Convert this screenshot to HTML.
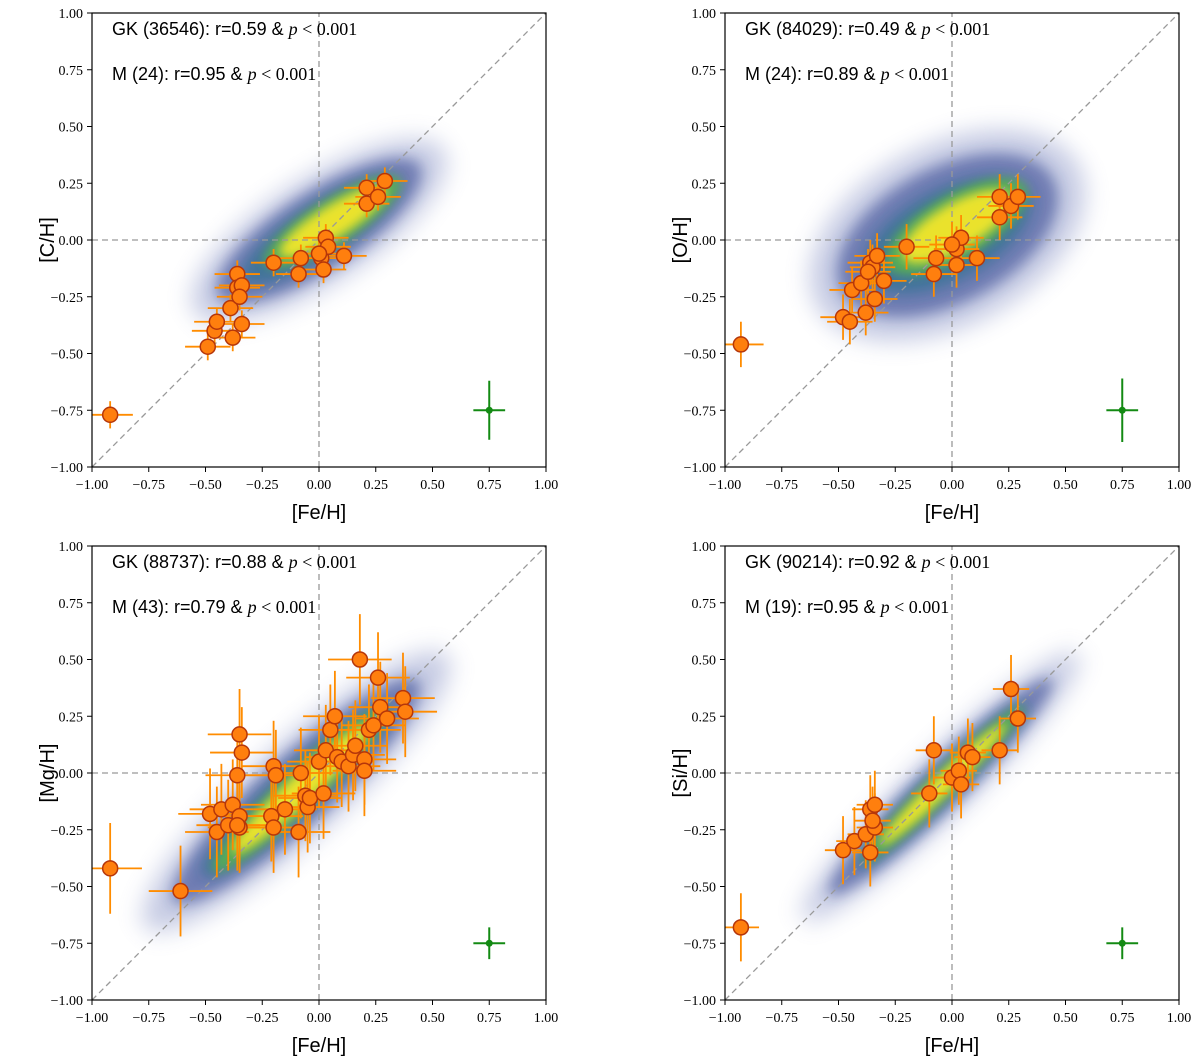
<!DOCTYPE html>
<html><head><meta charset="utf-8"><style>
body{margin:0;background:#fff;}
svg{display:block;font-family:"Liberation Sans",sans-serif;}
</style></head><body>
<svg id="fig" width="1200" height="1063" viewBox="0 0 1200 1063">
<defs><filter id="blur" x="-50%" y="-50%" width="200%" height="200%"><feGaussianBlur stdDeviation="12"/></filter>
<filter id="blurm" x="-50%" y="-50%" width="200%" height="200%"><feGaussianBlur stdDeviation="7"/></filter>
<filter id="blur2" x="-50%" y="-50%" width="200%" height="200%"><feGaussianBlur stdDeviation="5"/></filter></defs>
</svg>
<script>
const NS='http://www.w3.org/2000/svg';
const svg=document.getElementById('fig');
const ticks=[-1,-0.75,-0.5,-0.25,0,0.25,0.5,0.75,1];
const tickLabels=['\u22121.00','\u22120.75','\u22120.50','\u22120.25','0.00','0.25','0.50','0.75','1.00'];
const cFe=[-0.92,-0.49,-0.46,-0.45,-0.39,-0.38,-0.34,-0.36,-0.36,-0.34,-0.20,-0.09,-0.08,0.01,0.02,0.03,0.04,0.11,0.21,0.21,0.26,0.29,-0.35,0.0];
const cVal=[-0.77,-0.47,-0.40,-0.36,-0.30,-0.43,-0.37,-0.15,-0.21,-0.20,-0.10,-0.15,-0.08,-0.08,-0.13,0.01,-0.03,-0.07,0.23,0.16,0.19,0.26,-0.25,-0.06];
const oFe=[-0.93,-0.48,-0.44,-0.45,-0.40,-0.38,-0.36,-0.35,-0.34,-0.33,-0.20,-0.08,-0.07,0.02,0.02,0.04,0.11,0.21,0.21,0.26,0.29,-0.37,0.0,-0.30];
const oVal=[-0.46,-0.34,-0.22,-0.36,-0.19,-0.32,-0.10,-0.12,-0.26,-0.07,-0.03,-0.15,-0.08,-0.04,-0.11,0.01,-0.08,0.19,0.10,0.15,0.19,-0.14,-0.02,-0.18];
const mgFe=[-0.92,-0.61,-0.48,-0.45,-0.43,-0.40,-0.38,-0.36,-0.35,-0.34,-0.35,-0.35,-0.36,-0.20,-0.19,-0.21,-0.20,-0.15,-0.09,-0.08,-0.06,-0.05,-0.04,0.0,0.02,0.03,0.05,0.07,0.08,0.10,0.13,0.15,0.16,0.18,0.20,0.20,0.22,0.24,0.26,0.27,0.30,0.37,0.38];
const mgVal=[-0.42,-0.52,-0.18,-0.26,-0.16,-0.23,-0.14,-0.01,0.17,0.09,-0.19,-0.24,-0.23,0.03,-0.01,-0.19,-0.24,-0.16,-0.26,0.0,-0.10,-0.15,-0.11,0.05,-0.09,0.10,0.19,0.25,0.07,0.05,0.03,0.08,0.12,0.50,0.06,0.01,0.19,0.21,0.42,0.29,0.24,0.33,0.27];
const siFe=[-0.93,-0.48,-0.43,-0.38,-0.36,-0.36,-0.34,-0.34,-0.10,-0.08,0.0,0.03,0.04,0.07,0.09,0.21,0.26,0.29,-0.35];
const siVal=[-0.68,-0.34,-0.30,-0.27,-0.16,-0.35,-0.14,-0.24,-0.09,0.10,-0.02,0.01,-0.05,0.09,0.07,0.10,0.37,0.24,-0.21];

function el(tag,attrs,parent){const e=document.createElementNS(NS,tag);for(const k in attrs)e.setAttribute(k,attrs[k]);(parent||svg).appendChild(e);return e;}

const panels=[
 {L:92,T:13,yl:'[C/H]',fe:cFe,v:cVal,xe:0.1,ye:0.06,ge:0.13,gk:'36546',gr:'0.59',m:'24',mr:'0.95',
  cloud:[0.0,0.04,0.62,0.19,33],core:[0.06,0.08,0.32,0.07,32]},
 {L:725,T:13,yl:'[O/H]',fe:oFe,v:oVal,xe:0.1,ye:0.1,ge:0.14,gk:'84029',gr:'0.49',m:'24',mr:'0.89',
  cloud:[-0.02,0.02,0.62,0.33,28],core:[0.02,0.06,0.32,0.1,30]},
 {L:92,T:546,yl:'[Mg/H]',fe:mgFe,v:mgVal,xe:0.14,ye:0.2,ge:0.07,gk:'88737',gr:'0.88',m:'43',mr:'0.79',
  cloud:[-0.1,-0.08,0.85,0.17,42],core:[-0.08,-0.07,0.48,0.06,43]},
 {L:725,T:546,yl:'[Si/H]',fe:siFe,v:siVal,xe:0.08,ye:0.15,ge:0.07,gk:'90214',gr:'0.92',m:'19',mr:'0.95',
  cloud:[-0.05,-0.06,0.8,0.11,44],core:[-0.04,-0.05,0.45,0.04,44]}
];
const S=454;
panels.forEach((p,pi)=>{
  const sx=v=>p.L+(v+1)/2*S, sy=v=>p.T+(1-v)/2*S, k=S/2;
  const g=el('g',{});
  
  
  const clip=el('clipPath',{id:'c'+pi},g);el('rect',{x:p.L,y:p.T,width:S,height:S},clip);
  const cg=el('g',{'clip-path':'url(#c'+pi+')'},g);
  
  
  const c=p.cloud,co=p.core;
  const rot=(a,x,y)=>`rotate(${-a} ${x} ${y})`;
  const cx=sx(c[0]),cy=sy(c[1]);
  el('ellipse',{cx:cx,cy:cy,rx:c[2]*k*1.05,ry:c[3]*k*1.2,transform:rot(c[4],cx,cy),fill:'#7d88c0',opacity:0.45,filter:'url(#blur)'},cg);
  el('ellipse',{cx:cx,cy:cy,rx:c[2]*k*0.85,ry:c[3]*k*0.9,transform:rot(c[4],cx,cy),fill:'#2c3c8c',opacity:0.55,filter:'url(#blurm)'},cg);
  el('ellipse',{cx:cx,cy:cy,rx:c[2]*k*0.65,ry:c[3]*k*0.6,transform:rot(c[4],cx,cy),fill:'#23708a',opacity:0.6,filter:'url(#blurm)'},cg);
  const ox=sx(co[0]),oy=sy(co[1]);
  el('ellipse',{cx:ox,cy:oy,rx:co[2]*k*1.1,ry:co[3]*k*1.4,transform:rot(co[4],ox,oy),fill:'#5cb84a',opacity:0.8,filter:'url(#blur2)'},cg);
  el('ellipse',{cx:ox,cy:oy,rx:co[2]*k*0.85,ry:co[3]*k,transform:rot(co[4],ox,oy),fill:'#f2e62a',opacity:0.95,filter:'url(#blur2)'},cg);
  el('line',{x1:sx(-1),y1:sy(-1),x2:sx(1),y2:sy(1),stroke:'#999','stroke-dasharray':'6,4','stroke-width':1.3},cg);
  el('line',{x1:sx(-1),y1:sy(0),x2:sx(1),y2:sy(0),stroke:'#999','stroke-dasharray':'6,4','stroke-width':1.3},cg);
  el('line',{x1:sx(0),y1:sy(-1),x2:sx(0),y2:sy(1),stroke:'#999','stroke-dasharray':'6,4','stroke-width':1.3},cg);
  p.fe.forEach((f,i)=>{
    el('line',{x1:sx(f-p.xe),x2:sx(f+p.xe),y1:sy(p.v[i]),y2:sy(p.v[i]),stroke:'#ff8c00','stroke-width':1.8},cg);
    el('line',{x1:sx(f),x2:sx(f),y1:sy(p.v[i]-p.ye),y2:sy(p.v[i]+p.ye),stroke:'#ff8c00','stroke-width':1.8},cg);
  });
  p.fe.forEach((f,i)=>{
    const m=el('circle',{cx:sx(f),cy:sy(p.v[i]),r:7.5,fill:'#ff7f0e',stroke:'#b5360a','stroke-width':1.5},cg);
    
    
  });
  el('line',{x1:sx(0.68),x2:sx(0.82),y1:sy(-0.75),y2:sy(-0.75),stroke:'#138a13','stroke-width':2},cg);
  el('line',{x1:sx(0.75),x2:sx(0.75),y1:sy(-0.75-p.ge),y2:sy(-0.75+p.ge),stroke:'#138a13','stroke-width':2},cg);
  const gp=el('circle',{cx:sx(0.75),cy:sy(-0.75),r:3.5,fill:'#138a13'},cg);
  
  
  el('rect',{x:p.L,y:p.T,width:S,height:S,fill:'none',stroke:'#000','stroke-width':1.2},g);
  ticks.forEach((t,i)=>{
    el('line',{x1:sx(t),x2:sx(t),y1:p.T+S,y2:p.T+S+5,stroke:'#000'},g);
    el('line',{x1:p.L-5,x2:p.L,y1:sy(t),y2:sy(t),stroke:'#000'},g);
    const xt=el('text',{x:sx(t),y:p.T+S+22,'text-anchor':'middle','font-size':14,'font-family':'Liberation Serif,serif'},g);xt.textContent=tickLabels[i];
    const yt=el('text',{x:p.L-9,y:sy(t)+5,'text-anchor':'end','font-size':14,'font-family':'Liberation Serif,serif'},g);yt.textContent=tickLabels[i];
  });
  const xl=el('text',{x:sx(0),y:p.T+S+52,'text-anchor':'middle','font-size':20},g);xl.textContent='[Fe/H]';
  
  const yl=el('text',{x:p.L-38,y:sy(0),'text-anchor':'middle','font-size':20,transform:`rotate(-90 ${p.L-38} ${sy(0)})`},g);yl.textContent=p.yl;
  
  const a1=el('text',{x:p.L+20,y:p.T+22,'font-size':18},g);
  a1.innerHTML=`GK (${p.gk}):  r=${p.gr} &amp; <tspan font-family="Liberation Serif,serif" font-style="italic">p</tspan><tspan font-family="Liberation Serif,serif"> &lt; 0.001</tspan>`;
  
  const a2=el('text',{x:p.L+20,y:p.T+67,'font-size':18},g);
  a2.innerHTML=`M (${p.m}):  r=${p.mr} &amp; <tspan font-family="Liberation Serif,serif" font-style="italic">p</tspan><tspan font-family="Liberation Serif,serif"> &lt; 0.001</tspan>`;
  
});
</script>
</body></html>
